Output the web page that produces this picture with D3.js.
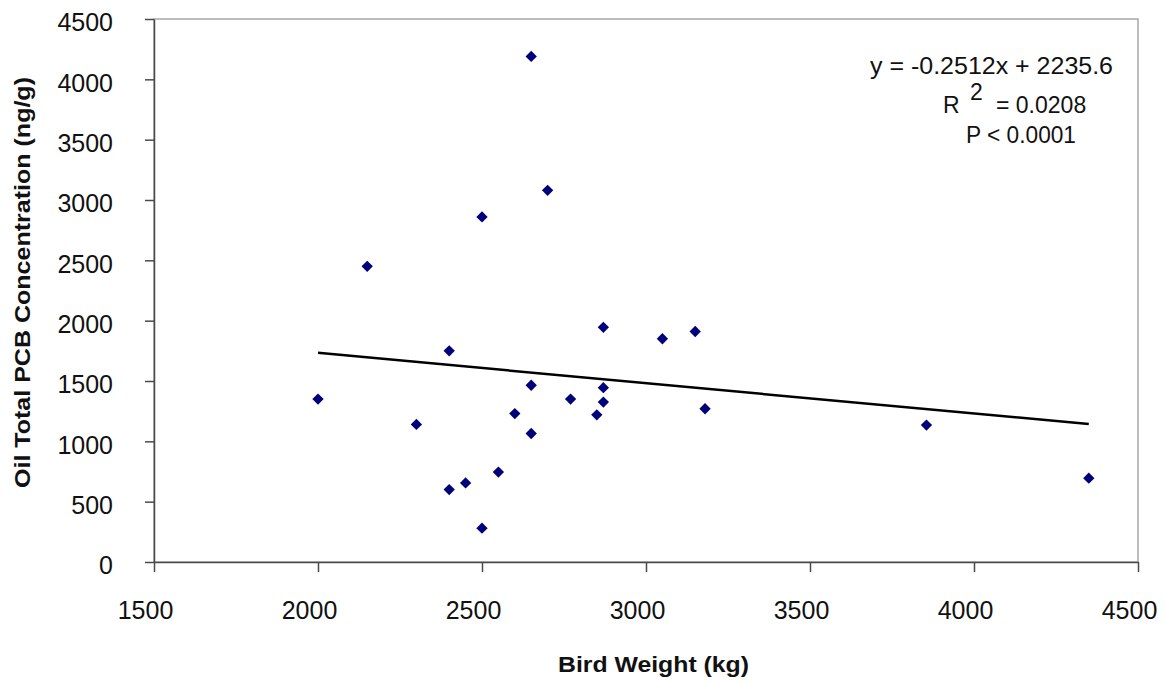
<!DOCTYPE html>
<html lang="en">
<head>
  <meta charset="UTF-8">
  <title>Oil Total PCB Concentration vs Bird Weight</title>
  <style>
    body {
      margin: 0;
      background: #fff;
      font-family: "Liberation Sans", Arial, sans-serif;
    }

    .axis text {
      font: 25px "Liberation Sans", Arial, sans-serif;
      fill: #111;
    }

    .axis path,
    .axis line {
      stroke: #4a4a4a;
      stroke-width: 1.5px;
    }

    .title {
      font: bold 22px "Liberation Sans", Arial, sans-serif;
      fill: #111;
    }

    .eq {
      font: 23px "Liberation Sans", Arial, sans-serif;
      fill: #111;
    }
  </style>
</head>
<body>
  <svg width="1166" height="684"></svg>

  <script src="https://d3js.org/d3.v7.min.js"></script>
  <script>
    // bird weight (kg) and oil total PCB (ng/g)
    const weights = [2000, 2150, 2300, 2400, 2400, 2450, 2500, 2500, 2550, 2600, 2650, 2650,
                     2650, 2700, 2770, 2850, 2870, 2870, 2870, 3050, 3150, 3180, 3855, 4350];
    const pcb = [1350, 2450, 1140, 1750, 600, 655, 2860, 280, 745, 1230, 4190, 1465,
                 1065, 3080, 1350, 1220, 1945, 1445, 1325, 1850, 1910, 1270, 1135, 695];

    const xTicks = [1500, 2000, 2500, 3000, 3500, 4000, 4500];
    const yTicks = [0, 500, 1000, 1500, 2000, 2500, 3000, 3500, 4000, 4500];

    // fitted line from the chart
    const slope = -0.2512, intercept = 2235.6;
    const eqLines = ["y = -0.2512x + 2235.6", "R", "2", "= 0.0208", "P < 0.0001"];

    const svg = d3.select("svg");
    const plotL = 154, plotR = 1138, plotT = 19, plotB = 562;

    const x = d3.scaleLinear().domain([1500, 4500]).range([plotL, plotR]);
    const y = d3.scaleLinear().domain([0, 4500]).range([plotB, plotT]);

    // plot frame (light grey top and right edges)
    svg.append("rect")
      .attr("x", plotL).attr("y", plotT)
      .attr("width", plotR - plotL).attr("height", plotB - plotT)
      .attr("fill", "none")
      .attr("stroke", "#a8a8a8")
      .attr("stroke-width", 1.5);

    const fmt = d3.format("d");

    const xAxis = svg.append("g")
      .attr("class", "axis")
      .attr("transform", `translate(0,${plotB})`)
      .call(d3.axisBottom(x).tickValues(xTicks).tickFormat(fmt)
        .tickSize(10).tickSizeOuter(0).tickPadding(29));
    xAxis.selectAll("text").attr("dx", -9);

    const yAxis = svg.append("g")
      .attr("class", "axis")
      .attr("transform", `translate(${plotL},0)`)
      .call(d3.axisLeft(y).tickValues(yTicks).tickFormat(fmt)
        .tickSize(9).tickSizeOuter(0).tickPadding(32));
    yAxis.selectAll("text").attr("dy", "0.67em").attr("y", -5);

    // trend line across the data range
    const xr = d3.extent(weights);
    svg.append("line")
      .attr("x1", x(xr[0])).attr("y1", y(slope * xr[0] + intercept))
      .attr("x2", x(xr[1])).attr("y2", y(slope * xr[1] + intercept))
      .attr("stroke", "#000")
      .attr("stroke-width", 2.5);

    // diamond markers
    const diamond = d3.symbol().type(d3.symbolSquare).size(64);
    svg.append("g")
      .selectAll("path")
      .data(weights.map((w, i) => [w, pcb[i]]))
      .join("path")
      .attr("d", diamond)
      .attr("transform", d => `translate(${x(d[0])},${y(d[1])}) rotate(45)`)
      .attr("fill", "#00007a");

    // axis titles
    svg.append("text")
      .attr("class", "title")
      .attr("x", 558).attr("y", 672)
      .attr("textLength", 191)
      .attr("lengthAdjust", "spacingAndGlyphs")
      .text("Bird Weight (kg)");

    svg.append("text")
      .attr("class", "title")
      .attr("transform", "translate(30,488) rotate(-90)")
      .attr("textLength", 411)
      .attr("lengthAdjust", "spacingAndGlyphs")
      .text("Oil Total PCB Concentration (ng/g)");

    // regression annotation
    svg.append("text").attr("class", "eq")
      .attr("x", 870).attr("y", 74)
      .attr("textLength", 243)
      .attr("lengthAdjust", "spacingAndGlyphs")
      .text(eqLines[0]);

    svg.append("text").attr("class", "eq")
      .attr("x", 943).attr("y", 113)
      .text(eqLines[1]);
    svg.append("text").attr("class", "eq")
      .attr("x", 970).attr("y", 100)
      .text(eqLines[2]);
    svg.append("text").attr("class", "eq")
      .attr("x", 996).attr("y", 113)
      .text(eqLines[3]);

    svg.append("text").attr("class", "eq")
      .attr("x", 966).attr("y", 143)
      .attr("textLength", 110)
      .attr("lengthAdjust", "spacingAndGlyphs")
      .text(eqLines[4]);
  </script>
</body>
</html>
